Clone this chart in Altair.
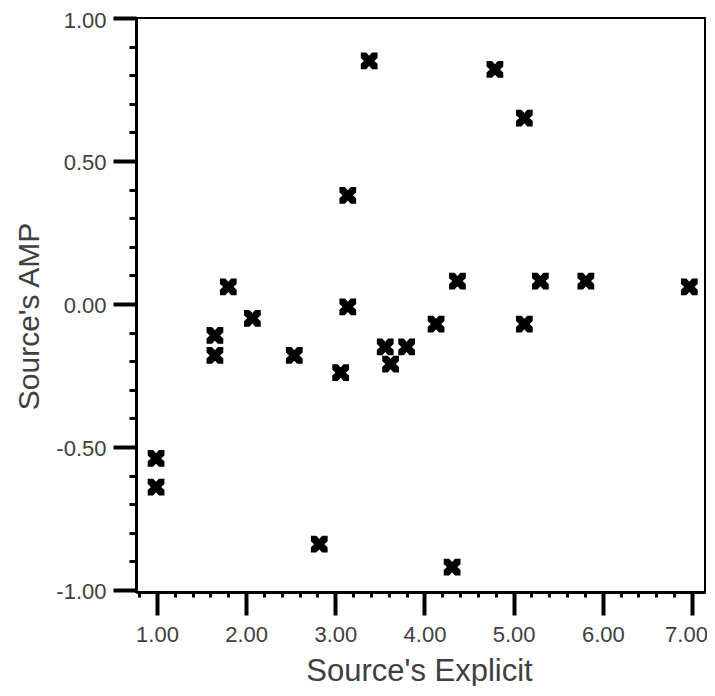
import altair as alt
import pandas as pd

# Data
explicit = [0.99, 0.99, 1.65, 1.65, 1.80, 2.07, 2.54, 2.82, 3.06, 3.14, 3.14, 3.38,
            3.56, 3.62, 3.80, 4.13, 4.31, 4.37, 4.79, 5.12, 5.12, 5.30, 5.81, 6.97]
amp = [-0.54, -0.64, -0.11, -0.18, 0.06, -0.05, -0.18, -0.84, -0.24, 0.38, -0.01, 0.85,
       -0.15, -0.21, -0.15, -0.07, -0.92, 0.08, 0.82, 0.65, -0.07, 0.08, 0.08, 0.06]

x_ticks = [0.8, 1.0, 1.2, 1.4, 1.6, 1.8, 2.0, 2.2, 2.4, 2.6, 2.8, 3.0, 3.2, 3.4, 3.6,
           3.8, 4.0, 4.2, 4.4, 4.6, 4.8, 5.0, 5.2, 5.4, 5.6, 5.8, 6.0, 6.2, 6.4, 6.6,
           6.8, 7.0]
y_ticks = [-1.0, -0.9, -0.8, -0.7, -0.6, -0.5, -0.4, -0.3, -0.2, -0.1, 0.0, 0.1, 0.2,
           0.3, 0.4, 0.5, 0.6, 0.7, 0.8, 0.9, 1.0]

df = pd.DataFrame({"explicit": explicit, "amp": amp})

FONT = "Liberation Sans"
TXT = "#404040"
x_major = "abs(datum.value - round(datum.value)) < 0.001"
y_major = "abs(datum.value*2 - round(datum.value*2)) < 0.001"

marker = ("M-1,-1 L-0.35,-1 L0,-0.62 L0.35,-1 L1,-1 L1,-0.35 L0.62,0 L1,0.35 "
          "L1,1 L0.35,1 L0,0.62 L-0.35,1 L-1,1 L-1,0.35 L-0.62,0 L-1,-0.35 Z")

x_axis = alt.Axis(
    values=x_ticks,
    title="Source's Explicit",
    labelExpr=f"{x_major} ? format(datum.value, '.2f') : ''",
    labelOverlap=False, labelFlush=False, labelBound=False,
    labelFont=FONT, labelFontSize=22, labelColor=TXT, labelPadding=9,
    labelOffset={"condition": {"test": "datum.value > 6.9", "value": -6}, "value": 0},
    titleFont=FONT, titleFontSize=31, titleColor=TXT, titleFontWeight="normal",
    titleX=283, titleY=88, titleBaseline="alphabetic", titleAlign="center",
    grid=False,
    domainColor="black", domainWidth=3,
    tickColor="black",
    tickSize={"condition": {"test": x_major, "value": 23}, "value": 5},
    tickWidth={"condition": {"test": x_major, "value": 4}, "value": 3},
)

y_axis = alt.Axis(
    values=y_ticks,
    title="Source's AMP",
    labelExpr=f"{y_major} ? (datum.value < 0 ? '-' : '') + format(abs(datum.value), '.2f') : ''",
    labelOverlap=False, labelFlush=False, labelBound=False,
    labelFont=FONT, labelFontSize=22, labelColor=TXT, labelPadding=7, labelOffset=2,
    titleFont=FONT, titleFontSize=30, titleColor=TXT, titleFontWeight="normal",
    titleX=-98, titleY=298, titleBaseline="alphabetic", titleAlign="center", titleAngle=-90,
    grid=False,
    domainColor="black", domainWidth=3,
    tickColor="black",
    tickSize={"condition": {"test": y_major, "value": 23}, "value": 7},
    tickWidth={"condition": {"test": y_major, "value": 4}, "value": 3},
)

chart = (
    alt.Chart(df)
    .mark_point(shape=marker, filled=True, size=280, color="black", opacity=1, strokeWidth=0)
    .encode(
        x=alt.X("explicit:Q", scale=alt.Scale(domain=[0.765, 7.146], nice=False, zero=False), axis=x_axis),
        y=alt.Y("amp:Q", scale=alt.Scale(domain=[-1.007, 1.0], nice=False, zero=False), axis=y_axis),
    )
    .properties(
        width=569,
        height=574,
        autosize=alt.AutoSizeParams(type="none"),
        padding={"left": 128, "top": 10, "right": 2, "bottom": 94},
        background="white",
    )
    .configure_view(stroke="black", strokeWidth=2)
)

chart.save("out.html", embed_options={"renderer": "svg", "actions": False})
